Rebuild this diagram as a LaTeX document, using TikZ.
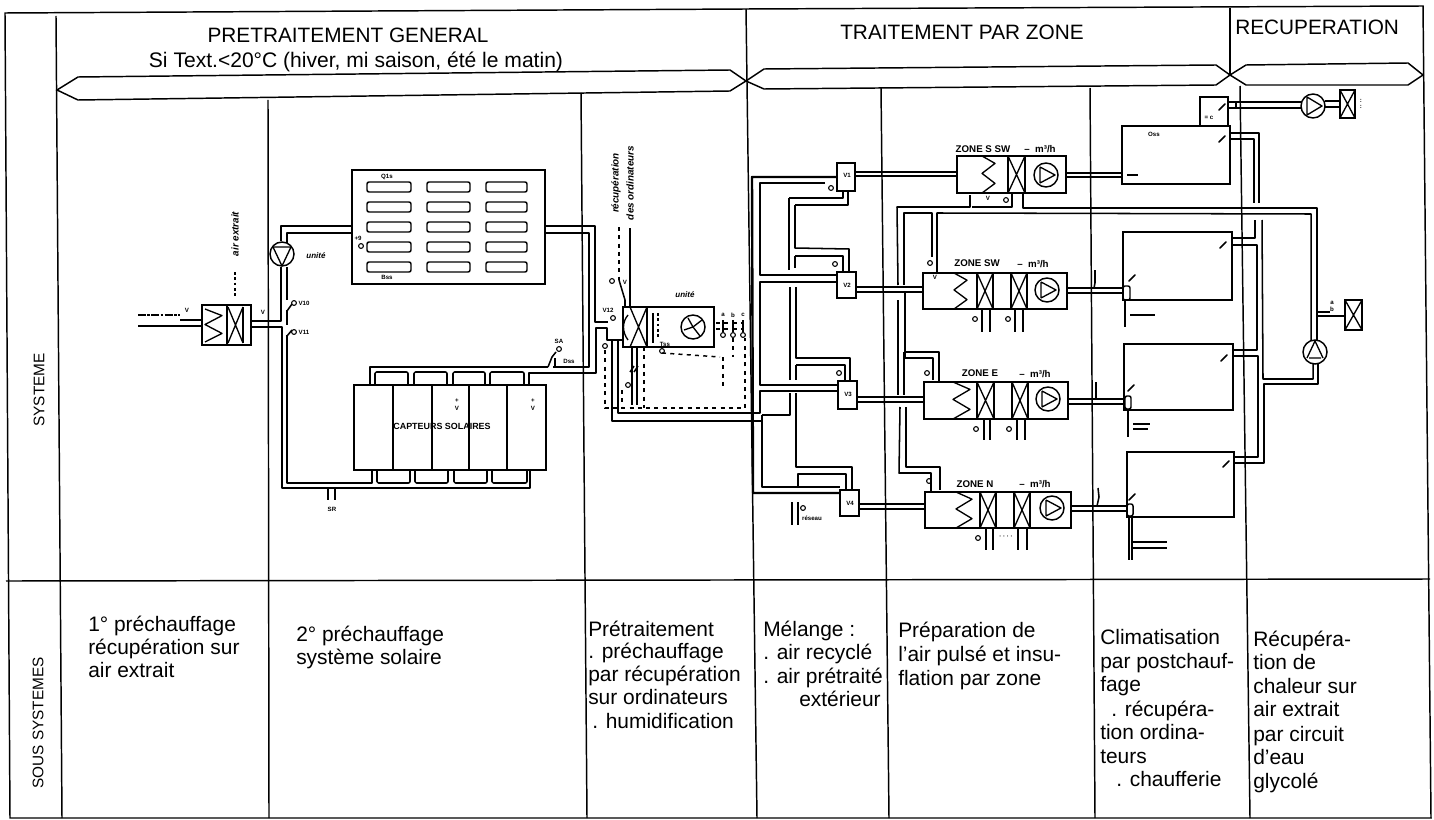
\documentclass[tikz,border=0pt]{standalone}
\usepackage{fontspec}
\setmainfont{Liberation Sans}
\usetikzlibrary{calc}
\newcount\tlc
\tikzset{
  x=0.75pt,y=-0.75pt,
  grid/.style={line width=1.1pt,black},
  eq/.style={draw=black,line width=1.1pt,inner sep=0pt,outer sep=0pt,rectangle,fill=none},
  pipe/.style={line width=1.15pt,black,line join=round},
  main/.style={line width=1.8pt,black,line join=round},
  thin eq/.style={line width=1pt,black,line join=round},
  ctrl/.style={line width=1.1pt,black,dash pattern=on 3pt off 3.2pt},
  head/.style={font=\fontsize{15.6pt}{17pt}\selectfont,inner sep=0pt,anchor=center},
  body/.style={font=\fontsize{15.7pt}{17pt}\selectfont,inner sep=0pt,anchor=base west},
  side/.style={font=\fontsize{11.5pt}{13pt}\selectfont,inner sep=0pt,rotate=90,anchor=center},
  wee/.style={font=\fontsize{4.6pt}{5pt}\selectfont\bfseries,inner sep=0pt,anchor=center},
  rotlab/.style={font=\fontsize{7.4pt}{8pt}\selectfont\bfseries\itshape,inner sep=0pt,rotate=90,anchor=center},
  unitlab/.style={font=\fontsize{6pt}{7pt}\selectfont\bfseries\itshape,inner sep=0pt,anchor=center},
  zonelab/.style={font=\fontsize{7.3pt}{8pt}\selectfont\bfseries,inner sep=0pt,anchor=center},
  fanc/.style={draw=black,line width=1.1pt,circle,minimum size=18pt,inner sep=0pt,outer sep=0pt},
  sens/.style={draw=black,line width=.8pt,circle,minimum size=3.6pt,inner sep=0pt,outer sep=0pt},
  tube/.style={draw=black,line width=1.1pt,rounded corners=1.5pt,inner sep=0pt,outer sep=0pt,rectangle},
}
% named box from px corners
\newcommand\bx[6][eq]{\node[#1,anchor=north west,minimum width={(#5-#3)*0.75pt},minimum height={(#6-#4)*0.75pt}] (#2) at (#3,#4) {};}
% paired connector between two named boxes
\newcommand\hp[4]{\draw[pipe] (#1.east |- 0,#3) -- (#2.west |- 0,#3); \draw[pipe] (#1.east |- 0,#4) -- (#2.west |- 0,#4);}
\newcommand\xx[4]{\draw[thin eq] (#1,#2) -- (#3,#4) (#3,#2) -- (#1,#4);}
% zigzag x0 x1 ytop h
\newcommand\zig[4]{\draw[thin eq] (#1,#3) -- (#2,#3+#4*.2) -- (#1,#3+#4*.47) -- (#2,#3+#4*.74) -- (#1,#3+#4);}
\newcommand\fan[3]{\node[fanc] (#1) at (#2,#3) {};
  \draw[thin eq] (#2-6,#3-8) -- (#2-6,#3+8) (#2-6,#3-8) -- (#2+9,#3) -- (#2-6,#3+8);}
\newcommand\wee[3]{\global\advance\tlc by 1 \node[wee] (w\the\tlc) at (#1,#2) {#3};}
\newcommand\mk[2]{\global\advance\tlc by 1 \node[sens] (m\the\tlc) at (#1,#2) {};}
\newcommand\tick[2]{\draw[line width=1.2pt,line cap=round] (#1-3,#2+3) -- (#1+3,#2-3);}
\begin{document}
\begin{tikzpicture}
\useasboundingbox (0,0) rectangle (1434,820);
% ---- frame
\draw[grid] (5,13) -- (746,9) -- (1423,6) -- (1431,818) -- (10,818) -- cycle;
\draw[grid] (56,16) -- (62,818);
\draw[grid] (268,100) -- (269,818);
\draw[grid] (581,93) -- (587,818);
\draw[grid] (746,9) -- (757,818);
\draw[grid] (881,88) -- (889,818);
\draw[grid] (1090,88) -- (1095,818);
\draw[grid] (1230,8) -- (1230,75);
\draw[grid] (1240,86) -- (1250,818);
\draw[grid] (6,581) -- (1430,579);
% ---- phase bands
\draw[grid] (57,90) -- (78,77) -- (730,70) -- (746,81) -- (730,91) -- (78,100) -- cycle;
\draw[grid] (746,81) -- (764,69) -- (1216,65) -- (1230,75) -- (1216,85) -- (764,89) -- cycle;
\draw[grid] (1230,75) -- (1246,65) -- (1408,63) -- (1423,75) -- (1408,85) -- (1246,85) -- cycle;
% ---- headers
\node[head] (h1) at (348,35) {PRETRAITEMENT GENERAL};
\node[head,font=\fontsize{15.8pt}{17pt}\selectfont] (h2) at (356,62) {Si Text.<20°C (hiver, mi saison, été le matin)};
\node[head] (h3) at (962,32) {TRAITEMENT PAR ZONE};
\node[head,anchor=west] (h4) at (1235,27) {RECUPERATION};
\node[side] (s1) at (39,390) {SYSTEME};
\node[side] (s2) at (38,723) {SOUS SYSTEMES};
% ---- row 2 texts
\node[body] (a1) at (88,631) {1° préchauffage};
\node[body] (a2) at (88,654) {récupération sur};
\node[body] (a3) at (88,677) {air extrait};
\node[body] (b1) at (296,641) {2° préchauffage};
\node[body] (b2) at (296,664) {système solaire};
\node[body] (c1) at (588,636) {Prétraitement};
\node[body] (c2) at (588,658) {. préchauffage};
\node[body] (c3) at (588,681) {par récupération};
\node[body] (c4) at (588,704) {sur ordinateurs};
\node[body] (c5) at (592,728) {. humidification};
\node[body] (d1) at (763,636) {Mélange :};
\node[body] (d2) at (763,659) {. air recyclé};
\node[body] (d3) at (763,683) {. air prétraité};
\node[body] (d4) at (799,706) {extérieur};
\node[body] (e1) at (898,637) {Préparation de};
\node[body] (e2) at (898,661) {l'air pulsé et insu-};
\node[body] (e3) at (898,685) {flation par zone};
\node[body] (f1) at (1100,644) {Climatisation};
\node[body] (f2) at (1100,668) {par postchauf-};
\node[body] (f3) at (1100,691) {fage};
\node[body] (f4) at (1111,716) {. récupéra-};
\node[body] (f5) at (1100,739) {tion ordina-};
\node[body] (f6) at (1100,763) {teurs};
\node[body] (f7) at (1116,786) {. chaufferie};
\node[body] (g1) at (1253,646) {Récupéra-};
\node[body] (g2) at (1253,669) {tion de};
\node[body] (g3) at (1253,693) {chaleur sur};
\node[body] (g4) at (1253,716) {air extrait};
\node[body] (g5) at (1253,741) {par circuit};
\node[body] (g6) at (1253,764) {d'eau};
\node[body] (g7) at (1253,788) {glycolé};
% ---- first preheat unit
\bx{pre}{202}{305}{251}{345}
\draw[thin eq] (227,305) -- (227,345) (243,307) -- (243,343);
\zig{205}{222}{309}{33}
\xx{228}{307}{243}{343}
\draw[pipe,dash pattern=on 6pt off 1pt on 2pt off 1pt] (138,315) -- (180,315);
\draw[pipe] (180,320) -- (pre.west |- 0,320);
\draw[pipe] (138,326) -- (pre.west |- 0,326);
\wee{187}{310}{V}
\node[rotlab] (n1) at (235,234) {air extrait};
\draw[line width=.9pt,dash pattern=on 2pt off 2pt] (235,272) -- (235,298);
\wee{263}{312}{V}
% ---- solar absorber box
\bx{abs}{352}{170}{545}{284}
\foreach \tx/\tw in {367/44,427/43,486/41}{
 \foreach \ty in {182,202,222,242,262}{
   \node[tube,anchor=north west,minimum width=\tw*0.75pt,minimum height=7.5pt] at (\tx,\ty) {};
 }}
\wee{387}{177}{Q1s}
\wee{387}{277}{Bss}
\mk{361}{246}
\wee{358}{238}{+9}
% ---- collectors
\bx{coll}{354}{385}{546}{470}
\draw[thin eq] (393,385) -- (393,470) (432,385) -- (432,470) (469,385) -- (469,470) (507,385) -- (507,470);
\node[wee,font=\fontsize{6.7pt}{7pt}\selectfont\bfseries] (captext) at (442,426) {CAPTEURS SOLAIRES};
\wee{457}{408}{V}
\wee{533}{408}{V}
\wee{457}{401}{+}
\wee{533}{401}{+}
\foreach \a/\b in {375/408,414/447,453/485,490/524}{
  \draw[pipe,rounded corners=1pt] (\a,385) -- (\a,372) -- (\b,372) -- (\b,385);}
\foreach \a/\b in {377/410,415/448,454/487,492/527}{
  \draw[pipe,rounded corners=1pt] (\a,470) -- (\a,483) -- (\b,483) -- (\b,470);}
% ---- fan on preheat circuit
\node[fanc] (fan0) at (282,254) {};
\draw[thin eq] (273,247) -- (291,247) -- (282,266) -- cycle;
\node[unitlab] (fan0l) at (316,256) {unité};
% solar pipes
\draw[pipe] (pre.east |- 0,321) -- (281,321) -- (281,267);
\draw[pipe] (281,241) -- (281,226) -- (abs.west |- 0,226);
\draw[pipe] (287,243) -- (287,233) -- (abs.west |- 0,233);
\draw[pipe] (287,267) -- (287,300) ;
\draw[pipe] (287,310) -- (287,325);
\draw[pipe] (287,335) -- (287,483) -- (372,483) -- (372,470);
\draw[pipe] (pre.east |- 0,327) -- (282,327) -- (282,488) -- (530,488) -- (530,470);
\draw[pipe] (287,311) -- (292,304) (287,336) -- (292,330);
\mk{294}{303}\mk{294}{332}
\wee{304}{303}{V10}
\wee{304}{332}{V11}
% outlet of absorber
\draw[pipe] (abs.east |- 0,226) -- (595,226) -- (595,322) -- (608,322);
\draw[pipe] (abs.east |- 0,233) -- (589,233) -- (589,367) -- (553,367);
\draw[pipe] (548,367) -- (370,367) -- (370,385);
\draw[pipe] (529,385) -- (529,373) -- (596,373) -- (596,328) -- (607,328) -- (607,340) -- (623,340);
% stub + sensor under return pipe
\draw[pipe] (328,488) -- (328,500) (335,488) -- (335,500);
\wee{332}{509}{SR}
\draw[pipe] (548,367) -- (552,357) -- (556,352) (555,367) -- (555,358);
\mk{559}{349}
\wee{559}{341}{SA}
\wee{569}{361}{Dss}
% ---- pretreatment unit
\bx{pt}{623}{307}{714}{347}
\draw[thin eq] (647,307) -- (647,347) (653,313) -- (653,343);
\xx{630}{307}{647}{347}
\draw[thin eq] (628,315) .. controls (622,322) and (622,332) .. (628,340);
\draw[line width=1pt,dash pattern=on 2pt off 2pt] (658,313) -- (658,337);
\node[fanc] (ptfan) at (693,327) {};
\draw[thin eq] (688,318) -- (693,327) -- (702,320) (693,327) -- (700,336) (693,327) -- (684,330);
\node[unitlab] (ptl) at (685,295) {unité};
\mk{613}{318}
\wee{608}{310}{V12}
% inlets from computers
\draw[ctrl] (619,227) -- (619,280);
\draw[pipe] (619,280) -- (625,300) -- (625,307);
\draw[pipe] (630,228) -- (630,307);
\node[rotlab] (i1) at (616,183) {récupération};
\node[rotlab] (i2) at (630,183) {des ordinateurs};
\mk{612}{281}
\wee{625}{282}{V}
% pipes below pretreatment
\draw[pipe] (612,340) -- (612,421) -- (752,421);
\draw[pipe] (618,340) -- (618,413) -- (752,413);
\draw[pipe] (632,347) -- (632,405) (637,347) -- (637,405);
\draw[pipe] (630,372) -- (634,366) (634,372) -- (638,366);
\mk{628}{385}
\mk{605}{346}
% control lines
\draw[ctrl] (605,350) -- (605,408) -- (745,408) -- (745,338);
\draw[ctrl] (644,347) -- (644,408);
\draw[ctrl] (622,390) -- (622,408);
\draw[ctrl] (662,353) -- (720,357);
\draw[ctrl] (723,357) -- (723,387);
\draw[ctrl] (733,338) -- (733,357);
\draw[ctrl] (716,323) -- (743,323) (716,329) -- (743,329);
\mk{723}{335}\mk{733}{335}\mk{743}{335}
\mk{662}{351}
\wee{723}{315}{a}\wee{733}{315}{b}\wee{743}{315}{c}
\draw[pipe] (723,320) -- (723,332) (733,320) -- (733,332) (743,320) -- (743,332);
\wee{665}{344}{Tss}
% ---- mixing boxes
\bx{mixA}{837}{163}{855}{191}
\bx{mixB}{837}{272}{856}{298}
\bx{mixC}{838}{381}{857}{409}
\bx{mixD}{840}{490}{859}{516}
\wee{847}{175}{V1}\wee{847}{285}{V2}\wee{848}{394}{V3}\wee{850}{503}{V4}
\mk{831}{188}
\mk{835}{264}\mk{839}{373}
\draw[main] (mixA.west |- 0,177) -- (752,177) -- (753,493) -- (mixD.west |- 0,493);
\draw[pipe] (825,183) -- (760,183) -- (760,275) -- (mixB.west |- 0,275);
\draw[pipe] (mixB.west |- 0,282) -- (760,282) -- (760,385) -- (mixC.west |- 0,385);
\draw[pipe] (mixC.west |- 0,391) -- (760,391) -- (760,413) -- (752,413);
\draw[pipe] (752,421) -- (762,421) -- (762,487) -- (mixD.west |- 0,487);
\draw[pipe] (762,415) -- (790,415) -- (790,393);
\draw[pipe] (762,415) -- (762,421);
\draw[pipe] (790,287) -- (790,380);
\draw[pipe] (789,198) -- (789,270);
\draw[pipe] (789,198) -- (843,198) -- (843,191);
\draw[pipe] (795,205) -- (848,205) -- (848,191);
\draw[pipe] (795,205) -- (795,248) -- (849,249) -- (849,272);
\draw[pipe] (795,256) -- (843,256) -- (843,272);
\draw[pipe] (795,256) -- (795,268);
\draw[pipe] (796,287) -- (796,358) -- (850,358) -- (850,381);
\draw[pipe] (796,365) -- (845,365) -- (845,381);
\draw[pipe] (796,365) -- (796,380);
\draw[pipe] (796,393) -- (796,467) -- (852,467) -- (852,490);
\draw[pipe] (798,488) -- (798,474) -- (846,474) -- (846,490);
\draw[pipe] (792,502) -- (792,525) (798,502) -- (798,525);
\mk{803}{508}
\wee{812}{518}{réseau}
% ---- zone units
\bx{zS}{957}{156}{1066}{193}
\draw[thin eq] (1008,156) -- (1008,193) (1025,156) -- (1025,193);
\zig{982}{995}{156}{37}
\xx{1008}{156}{1025}{193}
\fan{fS}{1046}{175}
\bx{zW}{923}{273}{1067}{309}
\draw[thin eq] (977,273) -- (977,309) (993,273) -- (993,309) (1011,273) -- (1011,309) (1027,273) -- (1027,309);
\zig{954}{967}{273}{36}
\xx{977}{273}{993}{309}
\xx{1011}{273}{1027}{309}
\fan{fW}{1047}{290}
\bx{zE}{924}{382}{1068}{419}
\draw[thin eq] (977,382) -- (977,419) (994,382) -- (994,419) (1012,382) -- (1012,419) (1028,382) -- (1028,419);
\zig{953}{970}{382}{37}
\xx{977}{382}{994}{419}
\xx{1012}{382}{1028}{419}
\fan{fE}{1048}{399}
\bx{zN}{925}{492}{1071}{528}
\draw[thin eq] (980,492) -- (980,528) (996,492) -- (996,528) (1014,492) -- (1014,528) (1030,492) -- (1030,528);
\zig{956}{972}{492}{36}
\xx{980}{492}{996}{528}
\xx{1014}{492}{1030}{528}
\fan{fN}{1052}{508}
% zone labels
\node[zonelab] (lS) at (983,149) {ZONE S SW};
\node[zonelab] (lSm) at (1040,149) {--\ \ m³/h};
\node[zonelab] (lW) at (977,263) {ZONE SW};
\node[zonelab] (lWm) at (1033,264) {--\ \ m³/h};
\node[zonelab] (lE) at (980,373) {ZONE E};
\node[zonelab] (lEm) at (1035,374) {--\ \ m³/h};
\node[zonelab] (lN) at (975,484) {ZONE N};
\node[zonelab] (lNm) at (1035,484) {--\ \ m³/h};
% mixing -> zones
\hp{mixA}{zS}{172}{176}
\hp{mixB}{zW}{287}{292}
\hp{mixC}{zE}{397}{402}
\hp{mixD}{zN}{504}{509}
% ---- radiators / post heating boxes
\bx{top}{1200}{97}{1228}{126}
\bx{r1}{1122}{126}{1230}{184}
\bx{r2}{1123}{232}{1232}{300}
\bx{r3}{1124}{344}{1233}{410}
\bx{r4}{1127}{452}{1234}{517}
\hp{zS}{r1}{173}{177}
\hp{zW}{r2}{288}{293}
\hp{zE}{r3}{399}{404}
\hp{zN}{r4}{506}{511}
\tick{1222}{139}\tick{1223}{245}\tick{1224}{358}\tick{1226}{464}
\tick{1132}{278}\tick{1131}{388}\tick{1132}{497}\tick{1222}{107}
\draw[line width=1.2pt] (1127,175) -- (1138,175);
\wee{1154}{134}{Oss}
\wee{1209}{118}{= c}
% lozenges & risers
\bx[tube]{lz2}{1123}{286}{1130}{300}
\bx[tube]{lz3}{1125}{396}{1131}{409}
\bx[tube]{lz4}{1127}{504}{1133}{516}
\draw[line width=1.3pt] (1125,300) -- (1125,327);
\draw[line width=.9pt] (1130,315) -- (1155,315);
\draw[line width=1.7pt] (1128,409) -- (1128,437);
\draw[line width=.9pt] (1133,424) -- (1150,424) (1133,429) -- (1148,429);
\draw[pipe] (1129,516) -- (1129,560) (1132,516) -- (1132,560);
\draw[line width=1.1pt] (1133,542) -- (1167,542) (1133,548) -- (1167,548);
% squiggle valves
\draw[pipe] (1095,270) -- (1095,283) -- (1094,288);
\draw[pipe] (1096,382) -- (1096,398);
\draw[pipe] (1098,488) -- (1099,497) -- (1097,506);
% ---- heating main to zones
\draw[pipe] (933,380) -- (933,358) -- (905,358) -- (905,293);
\draw[pipe] (939,382) -- (939,352) -- (904,352);
\draw[pipe] (898,352) -- (898,300);
\draw[pipe] (898,285) -- (897,207) -- (970,207) -- (970,195);
\draw[pipe] (972,207) -- (1012,207) -- (1012,193);
\draw[pipe] (904,285) -- (904,213) -- (932,213) -- (932,257);
\draw[pipe] (937,273) -- (937,213) -- (1311,214) -- (1311,340);
\draw[pipe] (1023,193) -- (1023,208) -- (1317,208) -- (1317,340);
\draw[pipe] (898,352) -- (898,395) (904,352) -- (904,395);
\draw[pipe] (900,407) -- (899,473) -- (931,473) -- (931,492);
\draw[pipe] (906,407) -- (906,467) -- (940,467) -- (940,490);
\mk{930}{263}\mk{927}{373}\mk{929}{481}
\wee{935}{277}{V}
\wee{988}{198}{V}
\mk{1006}{200}
% under-zone stubs
\foreach \a/\b/\ya/\yb in {982/990/309/332,1015/1023/309/332,984/990/419/440,1017/1025/419/440,986/993/528/550,1018/1027/528/550}{
  \draw[pipe] (\a,\ya) -- (\a,\yb) (\b,\ya) -- (\b,\yb);}
\mk{975}{319}\mk{1008}{319}\mk{976}{429}\mk{1009}{429}\mk{978}{538}
\wee{1006}{537}{· · · ·}
% ---- recovery loop
\draw[pipe] (r1.east |- 0,133) -- (1259,133) -- (1259,203);
\draw[pipe] (r1.east |- 0,139) -- (1254,139) -- (1254,203);
\draw[pipe] (r2.east |- 0,238) -- (1255,238) -- (1255,220);
\draw[pipe] (r2.east |- 0,245) -- (1257,245) -- (1257,350) -- (r3.east |- 0,350);
\draw[pipe] (r3.east |- 0,356) -- (1258,356) -- (1258,457) -- (r4.east |- 0,457);
\draw[pipe] (r4.east |- 0,463) -- (1264,463) -- (1264,384) -- (1318,384) -- (1318,363);
\draw[pipe] (1262,220) -- (1263,379) -- (1313,379) -- (1313,363);
\node[fanc] (pump) at (1315,352) {};
\draw[thin eq] (1307,358) -- (1315,341) -- (1323,358) (1309,358) -- (1321,358);
\bx{xb}{1345}{300}{1362}{330}
\xx{1345}{300}{1362}{330}
\draw[pipe] (1318,312) -- (1330,312);
\draw[pipe] (1318,316) -- (xb.west |- 0,316);
\wee{1332}{303}{a}\wee{1332}{309}{b}
% ---- top extractor
\node[fanc] (pump2) at (1313,106) {};
\draw[thin eq] (1307,97) -- (1307,115) (1307,97) -- (1322,106) -- (1307,115);
\bx{xc}{1340}{90}{1355}{118}
\xx{1340}{90}{1355}{118}
\hp{top}{pump2}{102}{108}
\draw[pipe] (pump2.east |- 0,101) -- (xc.west |- 0,101) (pump2.east |- 0,107) -- (xc.west |- 0,107);
\draw[pipe] (1236,102) -- (1236,108);
\wee{1361}{101}{:}\wee{1361}{107}{:}
\end{tikzpicture}
\end{document}
